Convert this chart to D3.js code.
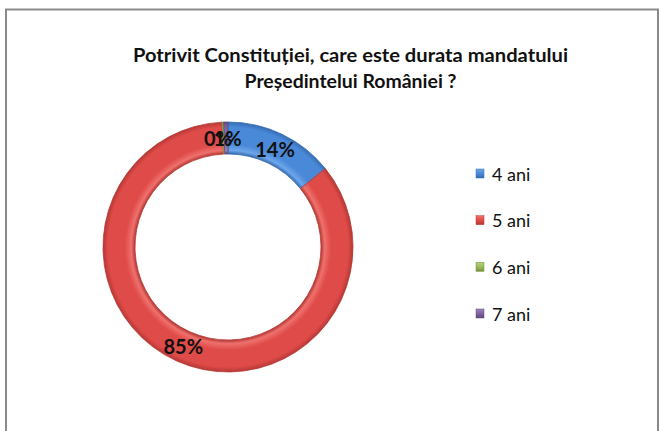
<!DOCTYPE html>
<html>
<head>
<meta charset="utf-8">
<script src="https://cdn.jsdelivr.net/npm/d3@7/dist/d3.min.js"></script>
<style>
  html, body { margin: 0; padding: 0; background: #fff; }
  svg { display: block; }
</style>
</head>
<body>
<svg id="chart" width="659" height="431"></svg>
<script>
// ---- data ----
const categories = ["4 ani", "5 ani", "6 ani", "7 ani"];
const values = [14.2, 85.05, 0.2, 0.55];
const titleLines = ["Potrivit Constituției, care este durata  mandatului", "Președintelui României  ?"];

// ---- styles ----
const baseColors = ["#4a89d8", "#df4b48", "#9bbb59", "#8064a2"];
const edgeColors = ["#356cb2", "#b53835", "#76923c", "#5f4a7b"];
const lightColors = ["#6ea6ec", "#ef716e", "#b5d27a", "#9d84c0"];

const W = 659, H = 431;
const cx = 228, cy = 247, rOuter = 125, rInner = 93;

const svg = d3.select("#chart");

// border
svg.append("rect")
  .attr("x", 6).attr("y", 9.5)
  .attr("width", 652).attr("height", 440)
  .attr("fill", "#fff")
  .attr("stroke", "#8a8a8a").attr("stroke-width", 2);

// title
const title = svg.append("text")
  .attr("text-anchor", "middle")
  .attr("font-family", "Lato, 'Open Sans', sans-serif")
  .attr("font-weight", "bold")
  .attr("font-size", 19)
  .attr("fill", "#111");
const titleWidths = [435, 212];
titleLines.forEach((t, i) => {
  title.append("tspan")
    .attr("x", 350.5)
    .attr("y", 62 + i * 26)
    .attr("textLength", titleWidths[i])
    .attr("lengthAdjust", "spacingAndGlyphs")
    .text(t);
});

// gradients (bevel look)
const defs = svg.append("defs");
categories.forEach((c, i) => {
  const g = defs.append("radialGradient")
    .attr("id", "grad" + i)
    .attr("gradientUnits", "userSpaceOnUse")
    .attr("cx", 0).attr("cy", 0).attr("r", rOuter)
    .attr("fx", 0).attr("fy", 0);
  const ri = rInner / rOuter;
  g.append("stop").attr("offset", ri).attr("stop-color", edgeColors[i]);
  g.append("stop").attr("offset", ri + 0.03).attr("stop-color", lightColors[i]);
  g.append("stop").attr("offset", ri + 0.08).attr("stop-color", baseColors[i]);
  g.append("stop").attr("offset", 0.96).attr("stop-color", baseColors[i]);
  g.append("stop").attr("offset", 1).attr("stop-color", edgeColors[i]);

  const lg = defs.append("linearGradient")
    .attr("id", "leg" + i)
    .attr("x1", 0).attr("y1", 0).attr("x2", 0).attr("y2", 1);
  lg.append("stop").attr("offset", 0).attr("stop-color", lightColors[i]);
  lg.append("stop").attr("offset", 0.5).attr("stop-color", baseColors[i]);
  lg.append("stop").attr("offset", 1).attr("stop-color", edgeColors[i]);
});

const data = categories.map((c, i) => ({ cat: c, value: values[i], i }));
const pie = d3.pie().value(d => d.value).sort(null);
const arcs = pie(data);
const arc = d3.arc().innerRadius(rInner).outerRadius(rOuter);
const labelArc = d3.arc().innerRadius((rInner + rOuter) / 2).outerRadius((rInner + rOuter) / 2);

const g = svg.append("g").attr("transform", `translate(${cx},${cy})`);
g.selectAll("path.slice")
  .data(arcs)
  .join("path")
  .attr("class", "slice")
  .attr("d", arc)
  .attr("fill", d => `url(#grad${d.data.i})`)
  .attr("stroke", d => edgeColors[d.data.i])
  .attr("stroke-width", 0.8);

// labels
const fmt = v => Math.round(v) + "%";
// spread labels of very small slices slightly apart (they overlap in the original too)
const smallIdx = arcs.filter(a => (a.endAngle - a.startAngle) < 0.05).map(a => a.index);
g.selectAll("text.lbl")
  .data(arcs)
  .join("text")
  .attr("class", "lbl")
  .attr("transform", d => {
    const [x, y] = labelArc.centroid(d);
    let dx = 0;
    const k = smallIdx.indexOf(d.index);
    if (k >= 0) dx = (k - (smallIdx.length - 1) / 2) * 7 - 2;
    return `translate(${x + dx},${y})`;
  })
  .attr("text-anchor", "middle")
  .attr("dominant-baseline", "central")
  .attr("font-family", "Lato, 'Open Sans', sans-serif")
  .attr("font-weight", "bold")
  .attr("font-size", 20)
  .attr("fill", "#111")
  .text(d => fmt(d.data.value));

// legend
const legend = svg.append("g");
const ly = d3.scalePoint().domain(categories).range([173.5, 313.5]);
const items = legend.selectAll("g.item")
  .data(categories)
  .join("g")
  .attr("class", "item")
  .attr("transform", d => `translate(476,${ly(d)})`);
items.append("rect")
  .attr("x", 0).attr("y", -4.5)
  .attr("width", 8).attr("height", 9)
  .attr("fill", (d, i) => `url(#leg${i})`)
  .attr("stroke", (d, i) => edgeColors[i])
  .attr("stroke-width", 0.5);
items.append("text")
  .attr("x", 16).attr("y", 0)
  .attr("dominant-baseline", "central")
  .attr("font-family", "Lato, 'Open Sans', sans-serif")
  .attr("font-size", 18)
  .attr("fill", "#111")
  .text(d => d);
</script>
</body>
</html>
